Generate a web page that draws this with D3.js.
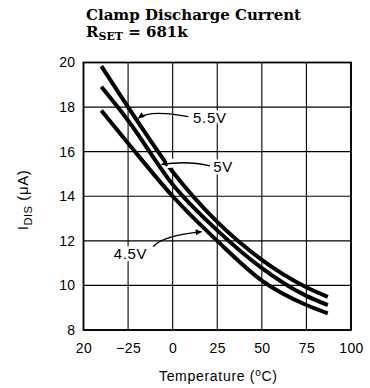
<!DOCTYPE html>
<html>
<head>
<meta charset="utf-8">
<script src="https://cdn.jsdelivr.net/npm/d3@7"></script>
<style>
  html, body { margin: 0; padding: 0; background: #fff; }
  svg { display: block; }
</style>
</head>
<body>
<svg id="chart" width="370" height="388"></svg>
<script>
// ---------- data ----------
const temps = [-40, -25, 0, 25, 50, 75, 87];
const i55 = [19.84, 18.0, 15.1, 12.85, 11.15, 9.92, 9.49];
const i50 = [18.91, 17.4, 14.53, 12.47, 10.78, 9.53, 9.12];
const i45 = [17.85, 16.38, 14.0, 12.0, 10.22, 9.12, 8.75];
const seriesNames = ["5.5V", "5V", "4.5V"];

const xTicks = [-50, -25, 0, 25, 50, 75, 100];
const xTickLabels = ["20", "\u221225", "0", "25", "50", "75", "100"];
const yTicks = [8, 10, 12, 14, 16, 18, 20];
const yTickLabels = ["8", "10", "12", "14", "16", "18", "20"];

// annotation arrows: [start, mid, tip] in data units (T, I)
const arrow55 = [[8.8, 17.57], [-9.0, 17.72], [-19.3, 17.5]];
const arrow50 = [[20.9, 15.36], [7.9, 15.50], [-6.3, 15.43]];
const arrow45 = [[-10.9, 11.74], [-1.5, 12.15], [16.3, 12.41]];
const label55 = [11.4, 17.55];
const label50 = [22.8, 15.33];
const label45 = [-14.2, 11.44];

// ---------- layout ----------
const svg = d3.select("#chart");
const x = d3.scaleLinear().domain([-50, 100]).range([83.5, 351]);
const y = d3.scaleLinear().domain([8, 20]).range([330, 62.5]);

const sans = "'Liberation Sans', Arial, sans-serif";
const serif = "'DejaVu Serif', 'Liberation Serif', serif";

// defs: arrow marker
svg.append("defs").append("marker")
  .attr("id", "ah").attr("viewBox", "0 0 10 10")
  .attr("refX", 10).attr("refY", 5)
  .attr("markerWidth", 7).attr("markerHeight", 6)
  .attr("markerUnits", "userSpaceOnUse")
  .attr("orient", "auto")
  .append("path").attr("d", "M0,0 L10,5 L0,10 Z").attr("fill", "#000");

// grid
const g = svg.append("g");
g.selectAll("line.vg").data(xTicks).join("line")
  .attr("x1", d => x(d)).attr("x2", d => x(d))
  .attr("y1", y(8)).attr("y2", y(20))
  .attr("stroke", "#000").attr("stroke-width", 1.1);
g.selectAll("line.hg").data(yTicks).join("line")
  .attr("x1", x(-50)).attr("x2", x(100))
  .attr("y1", d => y(d)).attr("y2", d => y(d))
  .attr("stroke", "#000").attr("stroke-width", 1.1);
g.append("rect")
  .attr("x", x(-50)).attr("y", y(20))
  .attr("width", x(100) - x(-50)).attr("height", y(8) - y(20))
  .attr("fill", "none").attr("stroke", "#000").attr("stroke-width", 1.8);

// axes tick labels
const xAxis = d3.axisBottom(x).tickValues(xTicks)
  .tickFormat((d, i) => xTickLabels[i]).tickSize(0).tickPadding(13);
const xa = svg.append("g").attr("transform", `translate(0,${y(8)})`).call(xAxis);
xa.select(".domain").remove();
xa.selectAll("text").attr("font-family", sans).attr("font-size", 14)
  .attr("fill", "#000").attr("letter-spacing", 0.4);

const yAxis = d3.axisLeft(y).tickValues(yTicks)
  .tickFormat((d, i) => yTickLabels[i]).tickSize(0).tickPadding(8);
const ya = svg.append("g").attr("transform", `translate(${x(-50)},0)`).call(yAxis);
ya.select(".domain").remove();
ya.selectAll("text").attr("font-family", sans).attr("font-size", 14)
  .attr("fill", "#000").attr("letter-spacing", 0.4);

// curves
const line = d3.line().x(d => x(d[0])).y(d => y(d[1])).curve(d3.curveMonotoneX);
const allSeries = [i55, i50, i45];
svg.append("g").selectAll("path").data(allSeries).join("path")
  .attr("d", s => line(temps.map((t, i) => [t, s[i]])))
  .attr("fill", "none").attr("stroke", "#000").attr("stroke-width", 4);

// arrows
function arrowPath(a) {
  const S = [x(a[0][0]), y(a[0][1])];
  const M = [x(a[1][0]), y(a[1][1])];
  const E = [x(a[2][0]), y(a[2][1])];
  const C = [2 * M[0] - (S[0] + E[0]) / 2, 2 * M[1] - (S[1] + E[1]) / 2];
  const p = d3.path();
  p.moveTo(S[0], S[1]);
  p.quadraticCurveTo(C[0], C[1], E[0], E[1]);
  return p.toString();
}
// white gap where the 5V arrow crosses the 5.5V curve
svg.append("clipPath").attr("id", "gapclip").append("rect")
  .attr("x", x(-3.5)).attr("y", y(16)).attr("width", x(1.5) - x(-3.5)).attr("height", y(14.8) - y(16));
svg.append("path").attr("d", arrowPath(arrow50))
  .attr("clip-path", "url(#gapclip)")
  .attr("fill", "none").attr("stroke", "#fff").attr("stroke-width", 9);

const arrows = [arrow55, arrow50, arrow45];
svg.append("g").selectAll("path").data(arrows).join("path")
  .attr("d", arrowPath)
  .attr("fill", "none").attr("stroke", "#000").attr("stroke-width", 1.3)
  .attr("marker-end", "url(#ah)");

// series labels with white background
const labels = [
  { p: label55, t: seriesNames[0], anchor: "start" },
  { p: label50, t: seriesNames[1], anchor: "start" },
  { p: label45, t: seriesNames[2], anchor: "end" }
];
svg.append("g").selectAll("text").data(labels).join("text")
  .attr("x", d => x(d.p[0])).attr("y", d => y(d.p[1]))
  .attr("dy", "0.36em")
  .attr("text-anchor", d => d.anchor)
  .attr("font-family", sans).attr("font-size", 15).attr("letter-spacing", 0.7)
  .attr("fill", "#000")
  .attr("stroke", "#fff").attr("stroke-width", 5).attr("paint-order", "stroke")
  .text(d => d.t);

// title
const t1 = svg.append("text").attr("x", 86).attr("y", 19.5)
  .attr("font-family", serif).attr("font-weight", "bold").attr("font-size", 15)
  .attr("fill", "#000").text("Clamp Discharge Current");
const t2 = svg.append("text").attr("x", 86).attr("y", 36.5)
  .attr("font-family", serif).attr("font-weight", "bold").attr("font-size", 15)
  .attr("fill", "#000");
t2.append("tspan").text("R");
t2.append("tspan").attr("font-size", 11).attr("dy", 3).text("SET");
t2.append("tspan").attr("dy", -3).text(" = 681k");

// x title
const xt = svg.append("text").attr("x", 218.3).attr("y", 381)
  .attr("text-anchor", "middle")
  .attr("font-family", sans).attr("font-size", 14).attr("letter-spacing", 0.7)
  .attr("fill", "#000");
xt.append("tspan").text("Temperature (");
xt.append("tspan").attr("font-size", 10).attr("dy", -5).text("o");
xt.append("tspan").attr("dy", 5).text("C)");

// y title
const yt = svg.append("text")
  .attr("transform", `translate(28,200) rotate(-90)`)
  .attr("text-anchor", "middle")
  .attr("font-family", sans).attr("font-size", 15).attr("letter-spacing", 0.6)
  .attr("fill", "#000");
yt.append("tspan").text("I");
yt.append("tspan").attr("font-size", 11).attr("dy", 4).text("DIS");
yt.append("tspan").attr("dy", -4).text(" (\u03bcA)");
</script>
</body>
</html>
